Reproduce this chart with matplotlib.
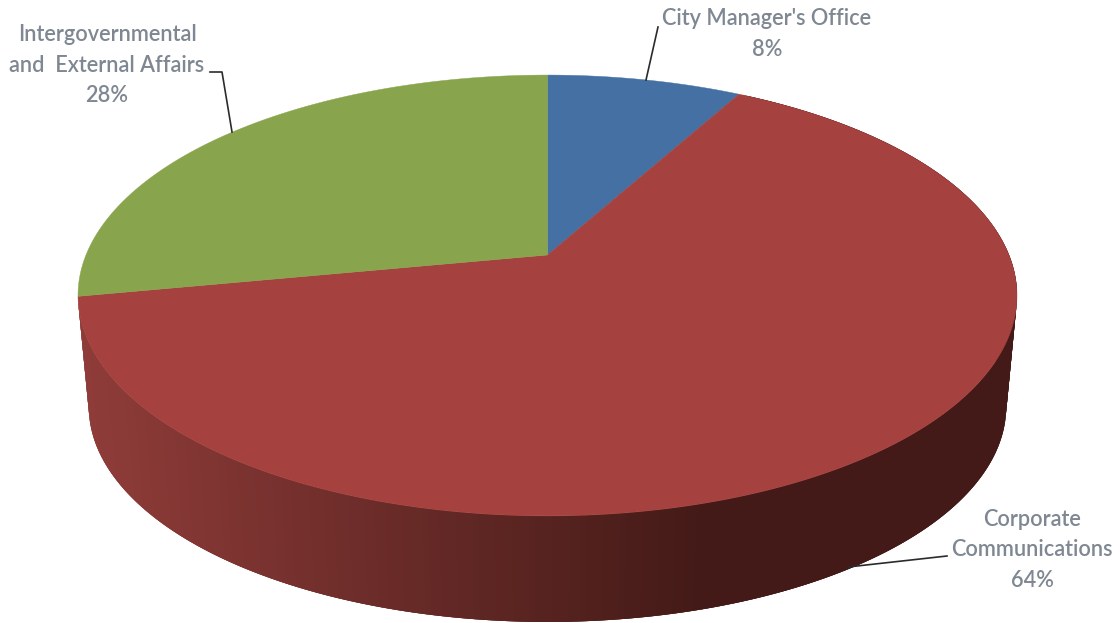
import numpy as np
import matplotlib
matplotlib.use('Agg')
import matplotlib.pyplot as plt
from matplotlib.colors import to_rgb
from matplotlib.collections import PolyCollection

categories = ["City Manager's Office", 'Corporate Communications', 'Intergovernmental and External Affairs']
shares = [8, 64, 28]
label_lines = ["City Manager's Office\n8%",
               'Corporate\nCommunications\n64%',
               'Intergovernmental\nand  External Affairs\n28%']

colors = ['#4570a4', '#a5423f', '#88a44c']
side_light = '#8f3c39'
side_dark = '#431a17'
text_color = '#7f8792'

plt.rcParams['font.family'] = ['Lato', 'DejaVu Sans']


def project(theta, scale=1.0, drop=0.0):
    # theta is clockwise from 12 o'clock, pie tilted with some perspective
    k = 0.1837
    u, v = np.sin(theta), np.cos(theta)
    x = 547.5 + scale * 461.5 * u / (1 + k * v)
    y = 255 + drop - scale * 213.0 * v / (1 + k * v)
    return x, y


fig = plt.figure(figsize=(11.2, 6.23), dpi=100)
ax = fig.add_axes([0, 0, 1, 1])
ax.set_xlim(0, 1120)
ax.set_ylim(623, 0)
ax.axis('off')

edges = np.cumsum([0] + shares) / sum(shares) * 2 * np.pi

# side wall of the big slice, painted left to right with overlapping strips
thetas = np.linspace(edges[2], edges[1], 400)
xt, yt = project(thetas)
xb, yb = project(thetas, scale=0.977, drop=112)
strips = []
strip_colors = []
c0, c1 = np.array(to_rgb(side_light)), np.array(to_rgb(side_dark))
for i in range(len(thetas) - 4):
    j = i + 4
    top = list(zip(xt[i:j], yt[i:j]))
    bottom = list(zip(xb[i:j], yb[i:j]))
    strips.append(top + bottom[::-1])
    f = np.clip((xb[i] - 90) / (700 - 90), 0, 1)
    strip_colors.append(c0 + (c1 - c0) * f)
ax.add_collection(PolyCollection(strips, facecolors=strip_colors, edgecolors='none', zorder=1))

# top faces
for start, stop, color in zip(edges[:-1], edges[1:], colors):
    t = np.linspace(start, stop, 300)
    x, y = project(t)
    x0, y0 = project(0.0, scale=0.0)
    ax.fill(np.r_[x0, x], np.r_[y0, y], color=color, lw=0.3, zorder=2)

# leader lines
ax.plot([646, 658], [80, 27], color='#2b2b2b', lw=1.2, zorder=3)
ax.plot([848, 947], [567, 556], color='#2b2b2b', lw=1.2, zorder=3)
ax.plot([232, 222, 210], [132, 72, 72], color='#2b2b2b', lw=1.2, zorder=3)

# data labels
label_x = [767, 1032, 107]
label_y = [34, 550, 65]
for lx, ly, s in zip(label_x, label_y, label_lines):
    ax.text(lx, ly, s, ha='center', va='center', fontsize=15.7, color=text_color,
            linespacing=1.55, fontweight='semibold', zorder=4)

fig.savefig('out.png', dpi=100)
